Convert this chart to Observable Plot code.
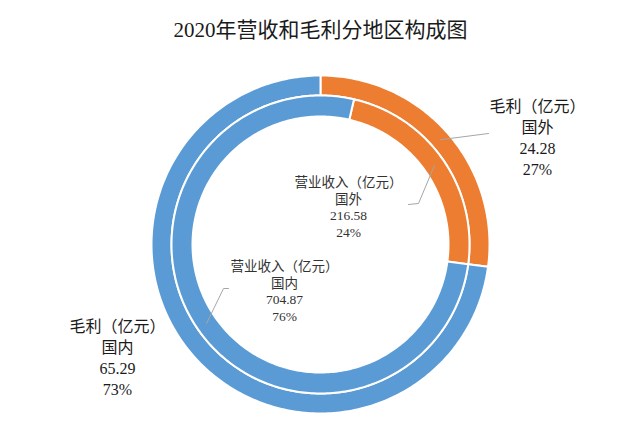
<!DOCTYPE html>
<html><head><meta charset="utf-8">
<script src="https://cdn.jsdelivr.net/npm/d3@7"></script>
<script src="https://cdn.jsdelivr.net/npm/@observablehq/plot@0.6"></script>
<style>body{margin:0;background:#fff}</style>
</head><body><div id="chart"></div>
<script>
// ---- data ----
const title = "2020年营收和毛利分地区构成图";
const regions = ["国外", "国内"];
const grossProfit = [24.28, 65.29];
const revenue = [216.58, 704.87];
const grossPct = ["27%", "73%"];
const revenuePct = ["24%", "76%"];
const grossName = "毛利（亿元）";
const revenueName = "营业收入（亿元）";
const colors = ["#ED7D31", "#5B9BD5"];

// ---- layout (pixels) ----
const W = 640, H = 432, CX = 320, CY = 244, R = 169;
const ux = px => (px - CX) / R, uy = py => (CY - py) / R;
const rings = [
  {name: grossName, values: grossProfit, pct: grossPct, r0: 149 / R, r1: 1, start: 0, size: 16, color: "#1a1a1a", lh: 1.32},
  {name: revenueName, values: revenue, pct: revenuePct, r0: 128 / R, r1: 149 / R, start: 13, size: 13.5, color: "#333", lh: 1.24}
];
// label block centers and leader paths per [ring][slice]
const labelLayout = [
  [{x: 537, y: 136, leader: [[488, 133]]},
   {x: 117, y: 356, leader: null}],
  [{x: 348, y: 206, leader: [[418, 203], [408, 204]]},
   {x: 284, y: 290, leader: [[223, 288], [228, 288]]}]
];

const pts = [], labels = [], leaders = [];
rings.forEach((ring, ri) => {
  const total = d3.sum(ring.values);
  let a = ring.start;
  ring.values.forEach((v, i) => {
    const a0 = a, a1 = a + v / total * 360; a = a1;
    const id = ri + "-" + i;
    const n = Math.max(2, Math.ceil(a1 - a0));
    const poly = [];
    for (let k = 0; k <= n; k++) { const t = (a0 + (a1 - a0) * k / n) * Math.PI / 180; poly.push([ring.r1 * Math.sin(t), ring.r1 * Math.cos(t)]); }
    for (let k = n; k >= 0; k--) { const t = (a0 + (a1 - a0) * k / n) * Math.PI / 180; poly.push([ring.r0 * Math.sin(t), ring.r0 * Math.cos(t)]); }
    poly.push(poly[0]);
    poly.forEach(([x, y]) => pts.push({id, x, y, region: regions[i]}));
    const am = (a0 + a1) / 2 * Math.PI / 180, rm = (ring.r0 + ring.r1) / 2;
    const L = labelLayout[ri][i];
    labels.push({ring: ri, x: ux(L.x), y: uy(L.y),
      text: ring.name + "\n" + regions[i] + "\n" + v.toFixed(2) + "\n" + ring.pct[i]});
    if (L.leader) {
      leaders.push({id, x: rm * Math.sin(am), y: rm * Math.cos(am)});
      L.leader.forEach(([px, py]) => leaders.push({id, x: ux(px), y: uy(py)}));
    }
  });
});

const font = '"Liberation Serif", "Noto Sans CJK SC", serif';
const textMark = (ri) => Plot.text(labels.filter(d => d.ring === ri), {
  x: "x", y: "y", text: "text", fill: rings[ri].color, fontSize: rings[ri].size, lineHeight: rings[ri].lh,
  textAnchor: "middle", lineAnchor: "middle", fontFamily: font
});

const chart = Plot.plot({
  width: W, height: H, margin: 0,
  x: {domain: [-CX / R, (W - CX) / R], range: [0, W], axis: null},
  y: {domain: [-(H - CY) / R, CY / R], range: [H, 0], axis: null},
  color: {domain: regions, range: colors},
  style: {fontFamily: font, background: "#fff"},
  marks: [
    Plot.line(pts, {x: "x", y: "y", z: "id", fill: "region", stroke: "#fff", strokeWidth: 2, curve: "linear"}),
    Plot.line(leaders, {x: "x", y: "y", z: "id", stroke: "#a6a6a6", strokeWidth: 1}),
    textMark(0),
    textMark(1),
    Plot.text([title], {frameAnchor: "top", dy: 22, fontSize: 21, fill: "#1a1a1a", fontFamily: font})
  ]
});
document.getElementById("chart").appendChild(chart);
</script>
</body></html>
